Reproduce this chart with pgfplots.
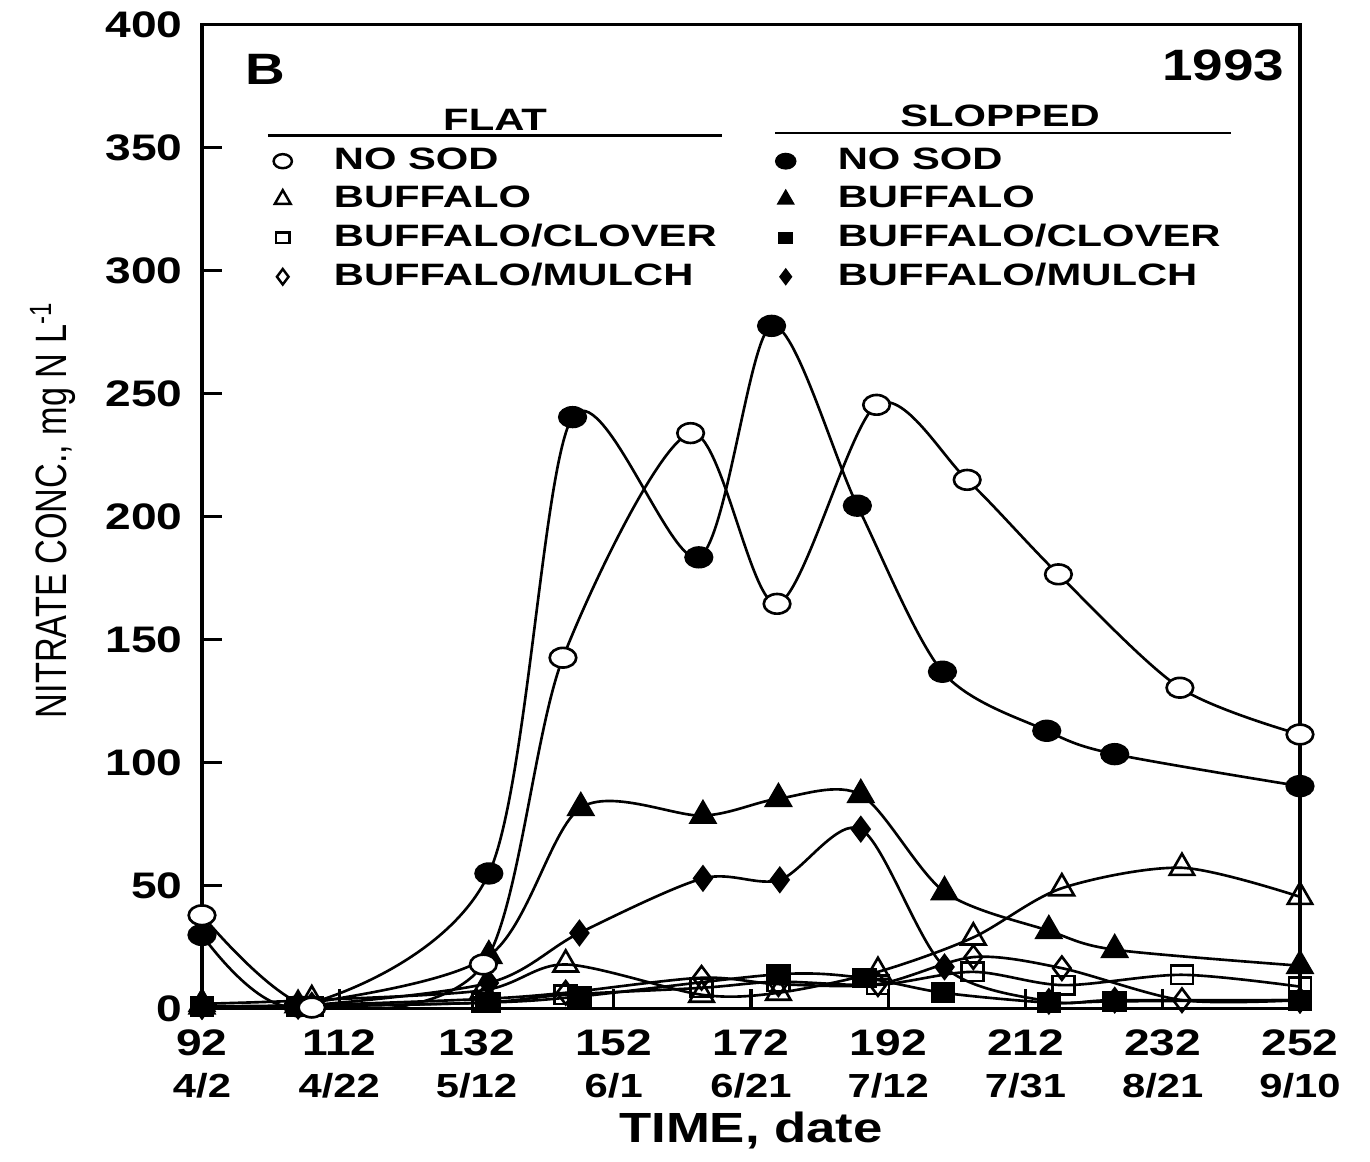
\documentclass[border=0pt]{standalone}
\usepackage{fontspec}
\setmainfont{Liberation Sans}
\newfontfamily\wide{Liberation Sans}[FakeStretch=1.25]
\newfontfamily\wider{Liberation Sans}[FakeStretch=1.35]
\newfontfamily\narrow{Liberation Sans}[FakeStretch=0.78]
\usepackage{pgfplots}
\pgfplotsset{compat=1.18}
\begin{document}
\begin{tikzpicture}
\begin{axis}[
  width=10.98cm, height=9.84cm, scale only axis,
  xmin=92, xmax=252, ymin=0, ymax=400,
  xtick={92,112,...,252},
  xticklabels={
    {92\\[-1pt]{\fontsize{9.5}{11}\selectfont 4/2}},
    {112\\[-1pt]{\fontsize{9.5}{11}\selectfont 4/22}},
    {132\\[-1pt]{\fontsize{9.5}{11}\selectfont 5/12}},
    {152\\[-1pt]{\fontsize{9.5}{11}\selectfont 6/1}},
    {172\\[-1pt]{\fontsize{9.5}{11}\selectfont 6/21}},
    {192\\[-1pt]{\fontsize{9.5}{11}\selectfont 7/12}},
    {212\\[-1pt]{\fontsize{9.5}{11}\selectfont 7/31}},
    {232\\[-1pt]{\fontsize{9.5}{11}\selectfont 8/21}},
    {252\\[-1pt]{\fontsize{9.5}{11}\selectfont 9/10}}},
  xticklabel style={align=center, yshift=-2.5pt},
  ytick={0,50,...,400},
  yticklabels={0,50,100,150,200,250,300,350,400},
  yticklabel style={xshift=-2pt},
  tick align=inside, tick pos=left, major tick length=0.2cm,
  axis line style={line width=0.9pt},
  every tick/.style={black, line width=0.9pt},
  every tick label/.append style={font=\fontsize{10.5}{13}\selectfont\wide\bfseries},
  xlabel={TIME, date},
  xlabel style={at={(axis description cs:0.5,-0.124)}, anchor=center, font=\fontsize{12}{14}\selectfont\wide\bfseries},
  ylabel={NITRATE CONC., mg N L\textsuperscript{-1}},
  ylabel style={at={(axis description cs:-0.136,0.507)}, anchor=center, rotate=0, font=\fontsize{12.5}{14}\selectfont\narrow},
  legend columns=2,
  legend cell align=left,
  legend style={draw=none, fill=none, at={(axis description cs:0.055,0.89)}, anchor=north west,
    font=\fontsize{8.8}{10}\selectfont\wider\bfseries, row sep=-0.8pt,
    /tikz/every odd column/.append style={column sep=0.35cm},
    /tikz/every even column/.append style={column sep=0.52cm}},
]
% legend images (interleaved: flat, slopped)
\addlegendimage{only marks, mark=o, mark size=2pt, mark options={xscale=1.3, line width=0.7pt}}
\addlegendimage{only marks, mark=*, mark size=2.2pt, mark options={xscale=1.3}}
\addlegendimage{only marks, mark=triangle, mark size=2.6pt, mark options={line width=0.7pt}}
\addlegendimage{only marks, mark=triangle*, mark size=2.6pt}
\addlegendimage{only marks, mark=square, mark size=1.5pt, mark options={xscale=1.3, line width=0.7pt}}
\addlegendimage{only marks, mark=square*, mark size=1.5pt, mark options={xscale=1.3}}
\addlegendimage{only marks, mark=diamond, mark size=2.2pt, mark options={line width=0.7pt}}
\addlegendimage{only marks, mark=diamond*, mark size=2.2pt}
\legend{NO SOD, NO SOD, BUFFALO, BUFFALO, BUFFALO/CLOVER, BUFFALO/CLOVER, BUFFALO/MULCH, BUFFALO/MULCH}

% Slopped BUFFALO/CLOVER
\addplot[forget plot, black, line width=0.75pt, smooth, mark=square*, mark options={mark size=2.6pt, xscale=1.2}] coordinates {
(92,1) (106,1) (133.8,2.5) (147,5) (176,14) (188.5,12.5) (200,6.5) (215.4,2.5) (225,3) (252,3.5)};
% Slopped BUFFALO/MULCH
\addplot[forget plot, black, line width=0.75pt, smooth, mark=diamond*, mark options={mark size=3.3pt}] coordinates {
(92,1) (106,1) (133.8,10.5) (147,30.8) (165,53) (176.2,52.4) (188,73) (200.2,17) (215.4,3) (225,3.5) (252,3.5)};
% Slopped BUFFALO
\addplot[forget plot, black, line width=0.75pt, smooth, mark=triangle*, mark options={mark size=4pt}] coordinates {
(92,1) (106,1.5) (133.8,21.5) (147.2,81.7) (165,78.5) (176,85.4) (188,87) (200.2,47.5) (215.4,31.7) (225,24) (252,17.5)};
% Flat BUFFALO/CLOVER
\addplot[forget plot, black, line width=0.75pt, smooth, mark=square, mark options={fill=white, mark size=2.6pt, xscale=1.2}] coordinates {
(92,1) (108,1) (133,2.5) (145,5.7) (164.8,8.5) (176,11) (190.5,9.7) (204.3,15) (217.5,9.6) (234.8,13.8) (252,9)};
% Flat BUFFALO/MULCH
\addplot[forget plot, black, line width=0.75pt, smooth, mark=diamond, mark options={fill=white, mark size=3.3pt}] coordinates {
(92,1) (108,1.5) (133,4) (145,6.5) (164.8,12.6) (176,10) (190.5,10) (204.4,21) (217.3,16.5) (234.8,3.5) (252,3.5)};
% Flat BUFFALO
\addplot[forget plot, black, line width=0.75pt, smooth, mark=triangle, mark options={fill=white, mark size=4pt}] coordinates {
(92,2) (108,3.5) (133,7.5) (145,18) (164.8,5.7) (176,6.5) (190.5,15) (204.4,29) (217.3,49) (234.8,57.3) (252,45.5)};
% Slopped NO SOD
\addplot[forget plot, black, line width=0.75pt, smooth, mark=*, mark options={mark size=2.8pt, xscale=1.35}] coordinates {
(92,30) (106,1) (133.8,55) (146,240.5) (164.4,183.5) (175,277.6) (187.5,204.5) (199.9,137) (215.1,113) (225,103.5) (252,90.5)};
% Flat NO SOD
\addplot[forget plot, black, line width=0.75pt, smooth, mark=*, mark options={fill=white, mark size=2.8pt, xscale=1.35}] coordinates {
(92,38) (108,0.5) (133,18) (144.6,142.7) (163.2,234) (175.8,164.6) (190.3,245.5) (203.5,215) (216.8,176.6) (234.5,130.5) (252,111.5)};

\node[font=\fontsize{8.8}{10}\selectfont\wider\bfseries] at (axis cs:134.7,361.5) {FLAT};
\draw[line width=0.6pt] (axis cs:101.6,355) -- (axis cs:167.8,355);
\node[font=\fontsize{8.8}{10}\selectfont\wider\bfseries] at (axis cs:208.3,363) {SLOPPED};
\draw[line width=0.6pt] (axis cs:175.5,356) -- (axis cs:241.9,356);
\node[font=\fontsize{12.5}{14}\selectfont\wide\bfseries] at (axis cs:101.2,382) {B};
\node[font=\fontsize{12.5}{14}\selectfont\wide\bfseries, anchor=east, inner sep=0pt] at (axis cs:249.8,383.5) {1993};
\end{axis}
\path (current axis.south west) ++(-2.02cm,-1.44cm) rectangle ++(13.7cm,11.5cm);
\end{tikzpicture}
\end{document}
